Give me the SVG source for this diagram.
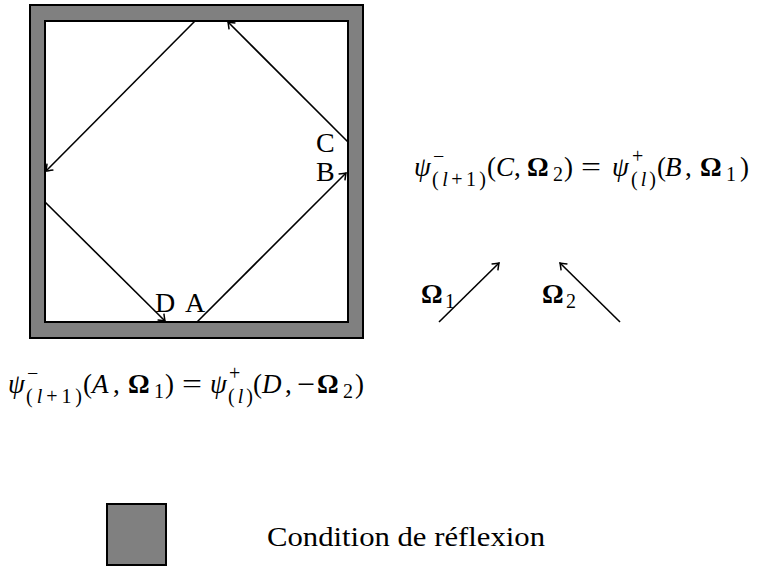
<svg xmlns="http://www.w3.org/2000/svg" width="762" height="566" viewBox="0 0 762 566">
<style>
.t{font-family:"Liberation Serif","Times New Roman",serif;fill:#000}
.lab{font-size:28px}
.m{font-size:27px}
.s{font-size:20px}
.i{font-style:italic}
.b{font-weight:bold}
.ln{stroke:#000;stroke-width:1.6;fill:none}
.wall{fill:#808080;stroke:#000;stroke-width:2}
</style>
<defs>
<marker id="arr" markerUnits="userSpaceOnUse" markerWidth="14" markerHeight="14" refX="0" refY="0" viewBox="-8 -7 10 14" orient="auto" overflow="visible">
<path d="M-6,-4.5 Q-1.5,-1 0,0 Q-1.5,1 -6,4.5" fill="none" stroke="#000" stroke-width="1.5"/>
</marker>
</defs>
<g id="domain">
<rect class="wall" x="30" y="5" width="333" height="333"/>
<rect x="45" y="21" width="303" height="301" fill="#fff" stroke="#000" stroke-width="2"/>
</g>
<g id="connectors">
<line class="ln" x1="197" y1="322" x2="346" y2="173" marker-end="url(#arr)"/>
<line class="ln" x1="348" y1="142" x2="228" y2="22" marker-end="url(#arr)"/>
<line class="ln" x1="195" y1="21" x2="46" y2="171" marker-end="url(#arr)"/>
<line class="ln" x1="45" y1="202" x2="165" y2="321" marker-end="url(#arr)"/>
<line class="ln" x1="439" y1="322" x2="499" y2="263" marker-end="url(#arr)"/>
<line class="ln" x1="620" y1="322" x2="560" y2="263" marker-end="url(#arr)"/>
</g>
<g id="labels">
<text class="t lab" x="316" y="152">C</text>
<text class="t lab" x="316" y="181">B</text>
<text class="t lab" x="155" y="312">D</text>
<text class="t lab" x="185" y="312">A</text>
</g>
<g id="omega1">
<text class="t m b" x="421" y="303">Ω</text>
<text class="t s" x="445" y="308">1</text>
</g>
<g id="omega2">
<text class="t m b" x="542" y="303">Ω</text>
<text class="t s" x="566" y="308">2</text>
</g>
<g id="eq1">
<text class="t m i" x="414" y="176">ψ</text>
<text class="t s" x="433" y="163">−</text>
<text class="t s" x="432" y="186" textLength="54" lengthAdjust="spacing">(<tspan class="i">l</tspan>+1)</text>
<text class="t m" x="487" y="176">(</text>
<text class="t m i" x="496" y="176">C</text>
<text class="t m" x="514" y="176">,</text>
<text class="t m b" x="527" y="176">Ω</text>
<text class="t s" x="553" y="181">2</text>
<text class="t m" x="564" y="176">)</text>
<text class="t m" x="581" y="176" textLength="20" lengthAdjust="spacingAndGlyphs">=</text>
<text class="t m i" x="612" y="176">ψ</text>
<text class="t s" x="632" y="163">+</text>
<text class="t s" x="631" y="186" textLength="25" lengthAdjust="spacing">(<tspan class="i">l</tspan>)</text>
<text class="t m" x="657" y="176">(</text>
<text class="t m i" x="665" y="176">B</text>
<text class="t m" x="685" y="176">,</text>
<text class="t m b" x="700" y="176">Ω</text>
<text class="t s" x="726" y="181">1</text>
<text class="t m" x="740" y="176">)</text>
</g>
<g id="eq2">
<text class="t m i" x="8" y="393">ψ</text>
<text class="t s" x="27" y="380">−</text>
<text class="t s" x="26" y="403" textLength="56" lengthAdjust="spacing">(<tspan class="i">l</tspan>+1)</text>
<text class="t m" x="83" y="393">(</text>
<text class="t m i" x="92" y="393">A</text>
<text class="t m" x="113" y="393">,</text>
<text class="t m b" x="128" y="393">Ω</text>
<text class="t s" x="154" y="398">1</text>
<text class="t m" x="165" y="393">)</text>
<text class="t m" x="182" y="393" textLength="20" lengthAdjust="spacingAndGlyphs">=</text>
<text class="t m i" x="210" y="393">ψ</text>
<text class="t s" x="229" y="380">+</text>
<text class="t s" x="228" y="403" textLength="25" lengthAdjust="spacing">(<tspan class="i">l</tspan>)</text>
<text class="t m" x="253" y="393">(</text>
<text class="t m i" x="262" y="393">D</text>
<text class="t m" x="285" y="393">,</text>
<text class="t m" x="297" y="393" textLength="18" lengthAdjust="spacingAndGlyphs">−</text>
<text class="t m b" x="317" y="393">Ω</text>
<text class="t s" x="343" y="398">2</text>
<text class="t m" x="355" y="393">)</text>
</g>
<g id="legend">
<rect class="wall" x="107" y="504" width="59" height="61"/>
<text class="t" font-size="28" x="267" y="546" textLength="278" lengthAdjust="spacingAndGlyphs">Condition de réflexion</text>
</g>
</svg>
